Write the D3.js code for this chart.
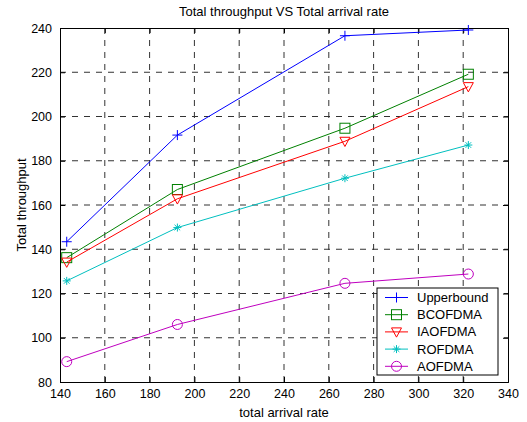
<!DOCTYPE html>
<html>
<head>
<meta charset="utf-8">
<script src="https://cdn.jsdelivr.net/npm/d3@7"></script>
<style>
  body { margin: 0; background: #fff; }
  svg { font-family: Arial, "Liberation Sans", sans-serif; }
  .tick text { font-size: 12.5px; fill: #000; }
  .domain { stroke: #000; }
  .tick line { stroke: #000; }
</style>
</head>
<body>
<div id="chart"></div>
<script>
const arrival_rate = [143, 192.4, 267.2, 322.3];
const series_names = ["Upperbound", "BCOFDMA", "IAOFDMA", "ROFDMA", "AOFDMA"];
const upperbound = [143.4, 191.6, 236.5, 239.1];
const bcofdma = [136.2, 167.0, 194.7, 219.1];
const iaofdma = [134.2, 162.8, 188.8, 213.5];
const rofdma = [125.7, 149.8, 172.1, 187.1];
const aofdma = [89.2, 106.0, 124.6, 128.8];
const x_ticks = [140, 160, 180, 200, 220, 240, 260, 280, 300, 320, 340];
const y_ticks = [80, 100, 120, 140, 160, 180, 200, 220, 240];

const colors = ["#0000ff", "#008000", "#ff0000", "#00bfbf", "#bf00bf"];
const markers = ["plus", "square", "tri_down", "star", "circle"];
const all_values = [upperbound, bcofdma, iaofdma, rofdma, aofdma];

const W = 527, H = 422;
const margin = {left: 60, right: 19, top: 28, bottom: 40};

const svg = d3.select("#chart").append("svg")
  .attr("width", W).attr("height", H);

const x = d3.scaleLinear().domain([140, 340]).range([margin.left, W - margin.right]);
const y = d3.scaleLinear().domain([80, 240]).range([H - margin.bottom, margin.top]);

// grid
const grid = svg.append("g").classed("grid", true);
grid.selectAll("line.gx")
  .data(x_ticks.slice(1, -1))
  .join("line")
    .attr("x1", d => x(d)).attr("x2", d => x(d))
    .attr("y1", y(240)).attr("y2", y(80))
    .attr("stroke", "#333").attr("stroke-dasharray", "6,6");
grid.selectAll("line.gy")
  .data(y_ticks.slice(1, -1))
  .join("line")
    .attr("y1", d => y(d)).attr("y2", d => y(d))
    .attr("x1", x(140)).attr("x2", x(340))
    .attr("stroke", "#333").attr("stroke-dasharray", "6,6");

// axes, MATLAB style inward ticks on all four sides
svg.append("g")
  .attr("transform", `translate(0,${y(80)})`)
  .call(d3.axisBottom(x).tickValues(x_ticks).tickSize(-5).tickPadding(7));
svg.append("g")
  .attr("transform", `translate(0,${y(240)})`)
  .call(d3.axisTop(x).tickValues(x_ticks).tickSize(-5).tickFormat(""));
svg.append("g")
  .attr("transform", `translate(${x(140)},0)`)
  .call(d3.axisLeft(y).tickValues(y_ticks).tickSize(-5).tickPadding(8));
svg.append("g")
  .attr("transform", `translate(${x(340)},0)`)
  .call(d3.axisRight(y).tickValues(y_ticks).tickSize(-5).tickFormat(""));
svg.selectAll(".domain").attr("stroke-width", 1);

// marker drawing
function draw_marker(g, type, color, s) {
  if (type == "plus") {
    g.append("path").attr("d", `M${-s},0H${s}M0,${-s}V${s}`)
      .attr("stroke", color).attr("fill", "none");
  } else if (type == "square") {
    g.append("rect").attr("x", -s).attr("y", -s).attr("width", 2*s).attr("height", 2*s)
      .attr("stroke", color).attr("fill", "none");
  } else if (type == "tri_down") {
    g.append("path").attr("d", `M${-s},${-s*0.8}L${s},${-s*0.8}L0,${s*1.05}Z`)
      .attr("stroke", color).attr("fill", "none");
  } else if (type == "star") {
    const d = s * 0.7;
    g.append("path").attr("d", `M${-s},0H${s}M0,${-s}V${s}M${-d},${-d}L${d},${d}M${-d},${d}L${d},${-d}`)
      .attr("stroke", color).attr("fill", "none");
  } else if (type == "circle") {
    g.append("circle").attr("r", s).attr("stroke", color).attr("fill", "none");
  }
}

const line = d3.line().x(d => x(d[0])).y(d => y(d[1]));

all_values.forEach((vals, i) => {
  const pts = arrival_rate.map((r, j) => [r, vals[j]]);
  const g = svg.append("g").classed("series", true);
  g.append("path")
    .attr("d", line(pts))
    .attr("fill", "none")
    .attr("stroke", colors[i])
    .attr("stroke-width", 1);
  g.selectAll("g.mk")
    .data(pts)
    .join("g")
      .classed("mk", true)
      .attr("transform", d => `translate(${x(d[0])},${y(d[1])})`)
      .each(function() { draw_marker(d3.select(this), markers[i], colors[i], i == 3 ? 4 : 5); });
});

// legend
const legend = svg.append("g").attr("transform", "translate(377,288)");
legend.append("rect")
  .attr("width", 121).attr("height", 87)
  .attr("fill", "#fff").attr("stroke", "#000");
series_names.forEach((name, i) => {
  const row = legend.append("g").attr("transform", `translate(0,${9.5 + i * 17.2})`);
  row.append("line").attr("x1", 8).attr("x2", 31).attr("y1", 0).attr("y2", 0)
    .attr("stroke", colors[i]);
  const mk = row.append("g").attr("transform", "translate(19.5,0)");
  draw_marker(mk, markers[i], colors[i], i == 3 ? 4 : 5);
  row.append("text").attr("x", 40).attr("y", 0).attr("dy", "0.35em")
    .attr("font-size", 13).text(name);
});

// labels
svg.append("text")
  .attr("x", (x(140) + x(340)) / 2).attr("y", 16)
  .attr("text-anchor", "middle").attr("font-size", 13)
  .text("Total throughput VS Total arrival rate");
svg.append("text")
  .attr("x", (x(140) + x(340)) / 2).attr("y", 417)
  .attr("text-anchor", "middle").attr("font-size", 13)
  .text("total arrival rate");
svg.append("text")
  .attr("transform", `translate(26,${(y(80) + y(240)) / 2}) rotate(-90)`)
  .attr("text-anchor", "middle").attr("font-size", 13)
  .text("Total throughput");
</script>
</body>
</html>
